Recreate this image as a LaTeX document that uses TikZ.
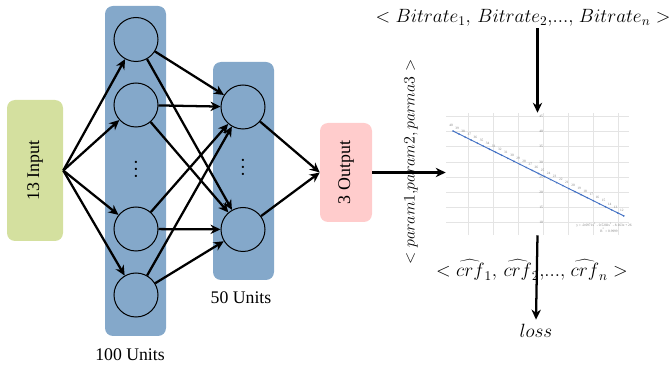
\documentclass[tikz,border=0pt]{standalone}
\usepackage{fontspec}
\setmainfont{Liberation Serif}
\usetikzlibrary{arrows.meta}

\definecolor{inputgreen}{HTML}{D4E09F}
\definecolor{layerblue}{HTML}{84A8CA}
\definecolor{outputpink}{HTML}{FFCCCC}
\definecolor{trendblue}{HTML}{4472C4}
\definecolor{gridgray}{HTML}{E4E4E4}

\begin{document}
\begin{tikzpicture}[x=0.75pt, y=-0.75pt,
    layer/.style={fill=layerblue, rounded corners=6pt, minimum width=45.75pt},
    unit/.style={draw, circle, line width=0.75pt, minimum size=33pt, inner sep=0pt},
    link/.style={line width=1.7pt, -{Stealth[length=7.5pt, width=7pt]}},
    unitstext/.style={font=\fontsize{13.3}{15}\selectfont},
    mathtext/.style={font=\fontsize{13.6}{16}\selectfont, inner sep=1pt},
    dotstext/.style={font=\fontsize{7}{5.2}\selectfont, align=center, inner sep=0pt},
    ticktext/.style={font=\fontsize{2.6}{3}\selectfont, text=gray, inner sep=0.3pt}]
    \useasboundingbox (0,0) rectangle (669,367);

    % input, hidden layers, output
    \node[fill=inputgreen, rounded corners=6pt, minimum width=42pt, minimum height=105.75pt] (input) at (35,170.5) {\rotatebox{90}{\fontsize{13.4}{15}\selectfont 13 Input}};
    \node[layer, minimum height=247.5pt] (hidden1) at (135.5,171) {};
    \node[layer, minimum height=163.5pt] (hidden2) at (243.5,171) {};
    \node[fill=outputpink, rounded corners=6pt, minimum width=39pt, minimum height=74.25pt] (output) at (346,172.5) {\rotatebox{90}{\fontsize{13.4}{15}\selectfont 3 Output}};

    \node[unit] (h1a) at (136,39.5) {};
    \node[unit] (h1b) at (136,105) {};
    \node[dotstext] (h1dots) at (136,170) {\textbullet\\\textbullet\\\textbullet};
    \node[unit] (h1c) at (136,229) {};
    \node[unit] (h1d) at (136,295) {};

    \node[unit] (h2a) at (243,107) {};
    \node[dotstext] (h2dots) at (243,168) {\textbullet\\\textbullet\\\textbullet};
    \node[unit] (h2b) at (243,229.5) {};

    \node[unitstext] (h1text) at (130,355) {100 Units};
    \node[unitstext] (h2text) at (241,298) {50 Units};

    % connections
    \draw[link] (input.east) -- (h1a);
    \draw[link] (input.east) -- (h1b);
    \draw[link] (input.east) -- (h1c);
    \draw[link] (input.east) -- (h1d);
    \draw[link] (h1a) -- (h2a);
    \draw[link] (h1a) -- (h2b);
    \draw[link] (h1b) -- (h2a);
    \draw[link] (h1b) -- (h2b);
    \draw[link] (h1c) -- (h2a);
    \draw[link] (h1c) -- (h2b);
    \draw[link] (h1d) -- (h2a);
    \draw[link] (h1d) -- (h2b);
    \draw[link] (h2a) -- (output.west);
    \draw[link] (h2b) -- (output.west);

    % fitted curve chart
    \node[minimum width=137.25pt, minimum height=91.5pt, inner sep=0pt] (chart) at (537.5,174) {};
    \foreach \gx in {468,493,518,543,568,593,618}
        \draw[gridgray, line width=0.5pt] (\gx,113) -- (\gx,235);
    \foreach \gy/\v in {116/45,131/40,146/35,162/30,177/25,192/20,207/15,222/10} {
        \draw[gridgray, line width=0.5pt] (446,\gy) -- (629,\gy);
        \node[ticktext] at (541,\gy) {\v};
    }
    \draw[trendblue, line width=0.7pt] (453,131) -- (624,216);
    \foreach \v [count=\i from 0] in {40,39,...,12} {
        \pgfmathsetmacro{\px}{453+\i*6.1}
        \pgfmathsetmacro{\py}{222-(\v-10)*3.03}
        \fill[trendblue] (\px,\py) circle (0.9);
        \node[ticktext] at (\px-2,\py-6) {\v};
    }
    \node[ticktext] (fitline) at (604,225) {y = -0.0971x\textsuperscript{3} - 0.5202x\textsuperscript{2} - 8.163x + 26};
    \node[ticktext] (fitr) at (609,230) {R\textsuperscript{2} = 0.9999};

    % inputs and outputs of the chart
    \node[mathtext] (bitrates) at (523,18) {$<Bitrate_1,\,Bitrate_2{,}...{,}\;Bitrate_n>$};
    \node[font=\fontsize{12}{14}\selectfont] (params) at (411,162) {\rotatebox{90}{$<param1{,}param2{,}\,parma3>$}};
    \node[mathtext] (crfs) at (532,270) {$<\widehat{crf}_1,\,\widehat{crf}_2{,}...{,}\;\widehat{crf}_n>$};
    \node[font=\fontsize{15.5}{17}\selectfont] (loss) at (536,331) {$loss$};

    \draw[link] (output.east) -- (chart.west |- output.east);
    \draw[link] (bitrates.south -| chart.north) -- (chart.north);
    \draw[link] (chart.south) -- (loss.north);
\end{tikzpicture}
\end{document}
